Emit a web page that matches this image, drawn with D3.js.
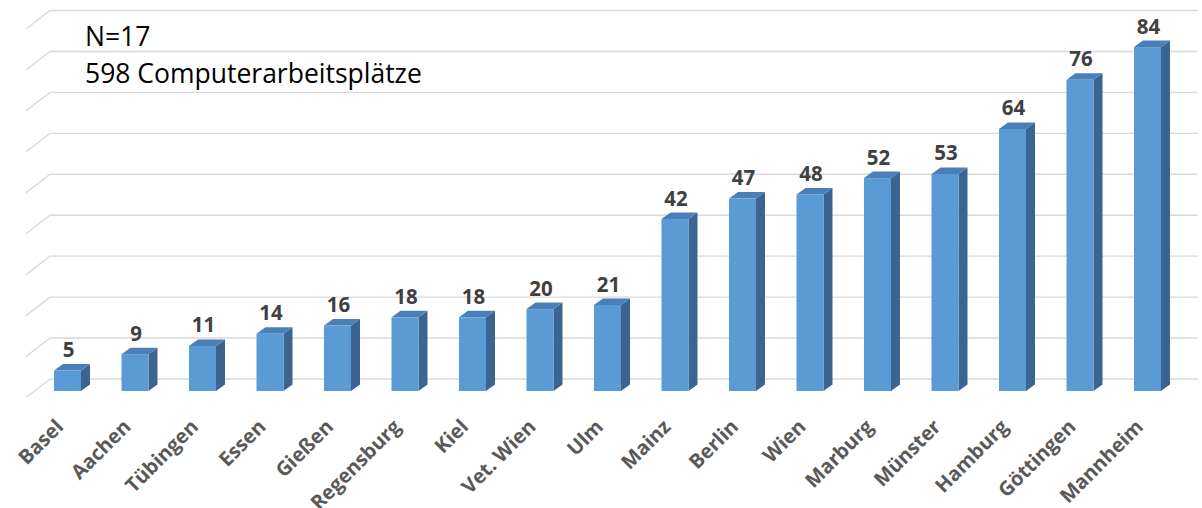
<!DOCTYPE html>
<html>
<head>
<meta charset="utf-8">
<script src="https://cdn.jsdelivr.net/npm/d3@7"></script>
<style>
  html, body { margin: 0; padding: 0; background: #fff; }
  svg { display: block; }
</style>
</head>
<body>
<svg id="chart" width="1202" height="508"></svg>
<script>
// Computer workstations per site
const sites = ["Basel", "Aachen", "Tübingen", "Essen", "Gießen", "Regensburg", "Kiel", "Vet. Wien", "Ulm",
               "Mainz", "Berlin", "Wien", "Marburg", "Münster", "Hamburg", "Göttingen", "Mannheim"];
const workstations = [5, 9, 11, 14, 16, 18, 18, 20, 21, 42, 47, 48, 52, 53, 64, 76, 84];
const gridValues = [0, 10, 20, 30, 40, 50, 60, 70, 80, 90];
const noteLines = ["N=17", "598 Computerarbeitsplätze"];

const svg = d3.select("#chart");

// value scales: back wall (gridlines) and the front face of the bars
const yWall = d3.scaleLinear().domain([0, 90]).range([379, 10.5]);
const yBar = d3.scaleLinear().domain([0, 90]).range([391, 22.5]);
const x = d3.scaleBand().domain(sites).range([33.75, 1181.25]).paddingInner(0.6).paddingOuter(0.3);

// wall depth and bar depth (oblique projection)
const wallDepth = { dx: 24, dy: -18.5 };
const barDepth = { dx: 9, dy: -6.5 };
const wallLeft = 26, wallRight = 1198;

// gridlines: short diagonal on the side wall + horizontal line on the back wall
const grid = svg.append("g").attr("class", "grid")
  .attr("stroke", "#d9d9d9").attr("stroke-width", 1.4).attr("fill", "none");
grid.selectAll("path").data(gridValues).join("path")
  .attr("d", v => {
    const yb = yWall(v);
    return `M${wallLeft},${yb - wallDepth.dy}L${wallLeft + wallDepth.dx},${yb}H${wallRight}`;
  });

// 3D bars
const bars = svg.append("g").attr("class", "bars")
  .selectAll("g").data(sites.map((s, i) => ({ site: s, value: workstations[i] })))
  .join("g");

const bw = x.bandwidth();
bars.append("path") // side face
  .attr("fill", "#3b6590")
  .attr("d", d => {
    const x1 = x(d.site) + bw, y0 = yBar(0), y1 = yBar(d.value);
    return `M${x1},${y0}L${x1},${y1}l${barDepth.dx},${barDepth.dy}L${x1 + barDepth.dx},${y0 + barDepth.dy}Z`;
  });
bars.append("path") // top face
  .attr("fill", "#4a7fb8")
  .attr("d", d => {
    const x0 = x(d.site), y1 = yBar(d.value);
    return `M${x0},${y1}l${barDepth.dx},${barDepth.dy}h${bw}l${-barDepth.dx},${-barDepth.dy}Z`;
  });
bars.append("rect") // front face
  .attr("fill", "#5b9bd5")
  .attr("x", d => x(d.site))
  .attr("y", d => yBar(d.value))
  .attr("width", bw)
  .attr("height", d => yBar(0) - yBar(d.value));

// value labels
bars.append("text")
  .attr("x", d => x(d.site) + bw / 2 + 1)
  .attr("y", d => yBar(d.value) - 13.5)
  .attr("text-anchor", "middle")
  .attr("font-family", "'Open Sans', sans-serif")
  .attr("font-weight", "bold")
  .attr("font-size", 20.5)
  .attr("fill", "#404040")
  .text(d => d.value);

// category labels, rotated
const xAxis = svg.append("g").attr("class", "x-axis");
xAxis.selectAll("text").data(sites).join("text")
  .attr("transform", s => `translate(${x(s) + bw / 2 - 3},428) rotate(-45)`)
  .attr("text-anchor", "end")
  .attr("font-family", "'Open Sans', sans-serif")
  .attr("font-weight", "bold")
  .attr("font-size", 20)
  .attr("fill", "#595959")
  .text(s => s);

// note in the upper left
svg.append("g").attr("class", "note")
  .selectAll("text").data(noteLines).join("text")
  .attr("x", 85)
  .attr("y", (d, i) => 46 + i * 37)
  .attr("font-family", "'Open Sans', sans-serif")
  .attr("font-size", 26.5)
  .attr("fill", "#000")
  .text(d => d);
</script>
</body>
</html>
